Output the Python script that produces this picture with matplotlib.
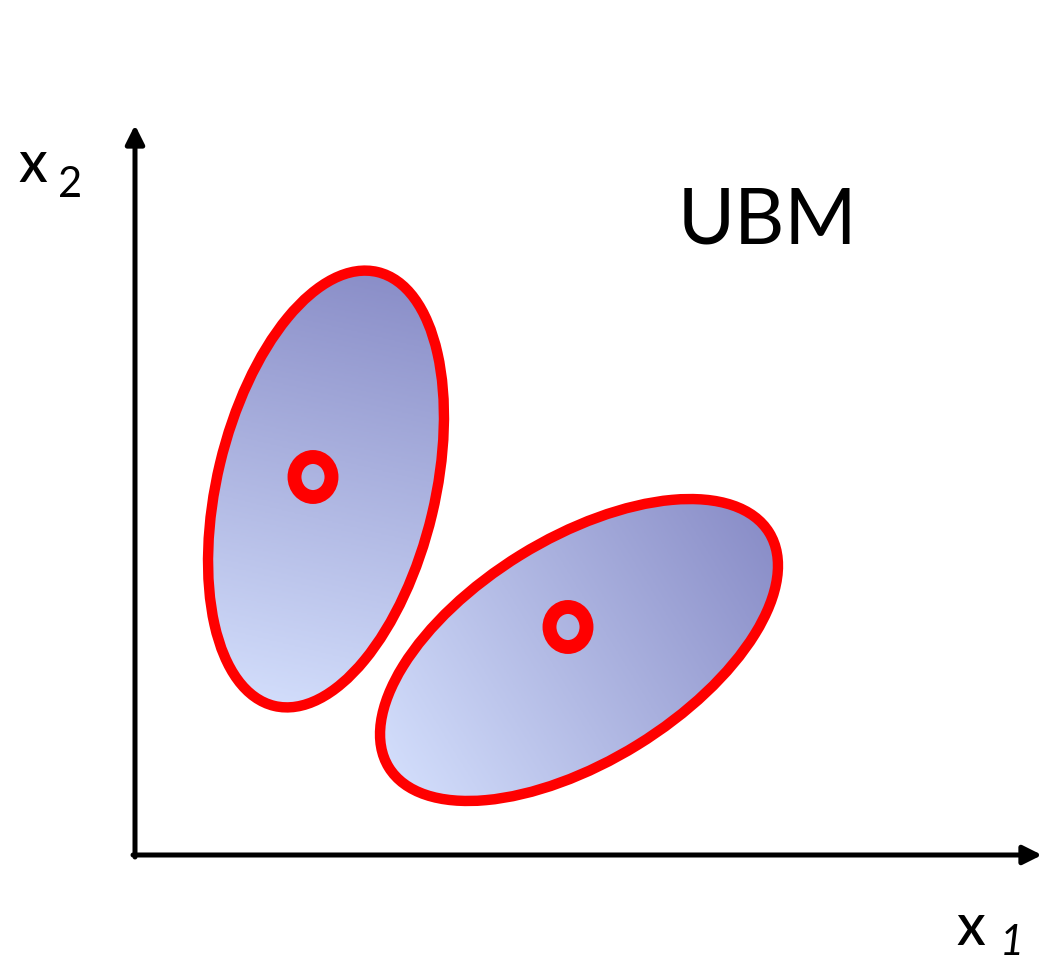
import numpy as np
import matplotlib
matplotlib.use('Agg')
import matplotlib.pyplot as plt
from matplotlib.patches import Ellipse
from matplotlib.colors import LinearSegmentedColormap

# Data: two gaussian components (pixel-like units, y pointing up)
komponen_cx = [326, 579]
komponen_cy = [472, 311]
komponen_lebar = [446, 447]
komponen_tinggi = [218, 223]
komponen_sudut = [76.6, 31.7]
mean_x = [313, 568]
mean_y = [484, 334]

W, H = 1042, 961
fig = plt.figure(figsize=(W / 100, H / 100), dpi=100)
ax = fig.add_axes([0, 0, 1, 1])
ax.set_xlim(0, W)
ax.set_ylim(0, H)
ax.axis('off')

cmap = LinearSegmentedColormap.from_list('biru', ['#d2ddfb', '#8a8ec8'])

for cx, cy, w, h, ang in zip(komponen_cx, komponen_cy, komponen_lebar, komponen_tinggi, komponen_sudut):
    # gradient along the major axis
    xs = np.linspace(cx - w / 2, cx + w / 2, 300)
    ys = np.linspace(cy - w / 2, cy + w / 2, 300)
    X, Y = np.meshgrid(xs, ys)
    t = np.deg2rad(ang)
    proj = ((X - cx) * np.cos(t) + (Y - cy) * np.sin(t)) / (w / 2)
    img = ax.imshow(proj, extent=[xs[0], xs[-1], ys[0], ys[-1]], origin='lower',
                    cmap=cmap, vmin=-1, vmax=1, zorder=1, interpolation='bilinear')
    clip = Ellipse((cx, cy), w, h, angle=ang, transform=ax.transData)
    img.set_clip_path(clip)
    ax.add_patch(Ellipse((cx, cy), w, h, angle=ang, facecolor='none',
                         edgecolor='#ff0000', lw=7.5, zorder=2))

# mean markers (ring shaped "o")
for mx, my in zip(mean_x, mean_y):
    ax.add_patch(Ellipse((mx, my), 37, 40, facecolor='none', edgecolor='#ff0000',
                         lw=10, zorder=3))

# axes arrows
arrow = dict(arrowstyle='-|>', color='black', lw=3.6, mutation_scale=28, shrinkA=0, shrinkB=0)
ax.annotate('', xy=(135, H - 125), xytext=(135, H - 857), arrowprops=arrow)
ax.annotate('', xy=(1042, H - 855), xytext=(133, H - 855), arrowprops=arrow)

ax.text(18, H - 182, 'x', fontsize=41, family='Lato', weight='medium', va='baseline', ha='left')
ax.text(58, H - 197, '2', fontsize=30, family='Lato', va='baseline', ha='left')
ax.text(956, H - 945, 'x', fontsize=41, family='Lato', weight='medium', va='baseline', ha='left')
ax.text(1000, H - 955, '1', fontsize=30, family='Lato', style='italic', va='baseline', ha='left')
ax.text(767, H - 243, 'UBM', fontsize=56, family='Lato', va='baseline', ha='center')

fig.savefig('out.png', dpi=100)
